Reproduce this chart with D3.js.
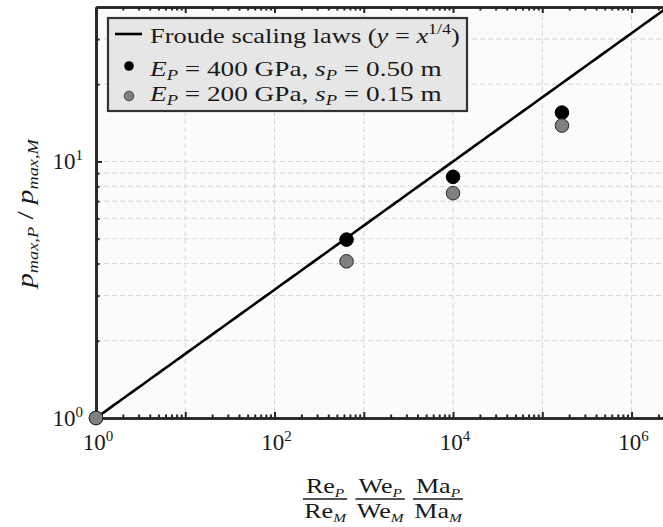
<!DOCTYPE html>
<html>
<head>
<meta charset="utf-8">
<script src="https://cdn.jsdelivr.net/npm/d3@7"></script>
<style>
  body { margin: 0; background: #ffffff; }
  text { font-family: "Liberation Serif", "DejaVu Serif", serif; fill: #1a1a1a; }
</style>
</head>
<body>
<svg id="chart" width="663" height="527"></svg>
<script>
// ---- data ----
const xMajorExps = [0, 2, 4, 6];          // labelled x decades
const yMajorExps = [0, 1];                // labelled y decades
const xLimits = [1, 2.56e6];
const yLimits = [1, 40];
const scalingPower = 0.25;                // Froude scaling: y = x^(1/4)
const similarityRatio = [1, 641, 10000, 166000];
const pressureRatio400 = [1, 4.96, 8.71, 15.5];   // E_P = 400 GPa, s_P = 0.50 m
const pressureRatio200 = [1, 4.08, 7.52, 13.8];   // E_P = 200 GPa, s_P = 0.15 m

// ---- layout ----
const margin = { left: 96, top: 7, right: 668, bottom: 418 };
const svg = d3.select("#chart");

const x = d3.scaleLog().domain(xLimits).range([margin.left, margin.right]);
const y = d3.scaleLog().domain(yLimits).range([margin.bottom, margin.top]);

const frameColor = "#262626";

// stretch a text element horizontally so it spans a given width from x0
function fitWidth(sel, x0, targetW) {
  const w = sel.node().getBBox().width;
  const k = targetW / w;
  sel.attr("transform", `translate(${x0},0) scale(${k},1) translate(${-x0},0)`);
}

// plot background
svg.append("rect")
  .attr("x", margin.left).attr("y", margin.top)
  .attr("width", margin.right - margin.left).attr("height", margin.bottom - margin.top)
  .attr("fill", "#fbfbfb");

// tick value sets
const xMinor = [];
for (let k = 0; k <= 6; k++) for (let m = 2; m <= 9; m++) {
  const v = m * Math.pow(10, k);
  if (v < xLimits[1]) xMinor.push(v);
}
const yMinor = [];
for (let k = 0; k <= 1; k++) for (let m = 2; m <= 9; m++) {
  const v = m * Math.pow(10, k);
  if (v < yLimits[1]) yMinor.push(v);
}
const xDecades = d3.range(0, 7).map(e => Math.pow(10, e));
const yDecades = yMajorExps.map(e => Math.pow(10, e));

// grid
const grid = svg.append("g").attr("stroke", "#d6d6d6").attr("stroke-width", 1)
  .attr("stroke-dasharray", "5,3");
grid.selectAll("line.gx").data(xDecades.slice(1)).join("line")
  .attr("x1", d => x(d)).attr("x2", d => x(d))
  .attr("y1", margin.top).attr("y2", margin.bottom);
grid.selectAll("line.gy").data(yMinor.concat(yDecades.slice(1))).join("line")
  .attr("y1", d => y(d)).attr("y2", d => y(d))
  .attr("x1", margin.left).attr("x2", margin.right);

// Froude scaling law line
const lawX = d3.range(0, 6.41, 0.05).map(e => Math.pow(10, e)).concat([xLimits[1]]);
svg.append("path")
  .datum(lawX)
  .attr("fill", "none").attr("stroke", "#000").attr("stroke-width", 2.6)
  .attr("d", d3.line().x(d => x(d)).y(d => y(Math.pow(d, scalingPower))));

// axes (inward ticks)
function styleAxis(g) {
  g.selectAll("text").remove();
  g.select(".domain").attr("stroke", frameColor).attr("stroke-width", 2.6);
  g.selectAll(".tick line").attr("stroke", frameColor).attr("stroke-width", 2);
}
function addAxis(axisGen, tr, values, size) {
  const g = svg.append("g").attr("transform", tr)
    .call(axisGen.tickValues(values).tickSizeInner(size).tickSizeOuter(0).tickFormat(""));
  styleAxis(g);
  return g;
}
addAxis(d3.axisBottom(x), `translate(0,${margin.bottom})`, xDecades, -6);
addAxis(d3.axisBottom(x), `translate(0,${margin.bottom})`, xMinor, -3.5);
addAxis(d3.axisTop(x), `translate(0,${margin.top})`, xDecades, -6);
addAxis(d3.axisTop(x), `translate(0,${margin.top})`, xMinor, -3.5);
addAxis(d3.axisLeft(y), `translate(${margin.left},0)`, yDecades, -6);
addAxis(d3.axisLeft(y), `translate(${margin.left},0)`, yMinor, -3.5);

// tick labels 10^k
function powerLabel(sel, k) {
  sel.append("tspan").text("10");
  sel.append("tspan").attr("dy", -9).attr("font-size", 15).text(String(k));
}
xMajorExps.forEach(k => {
  const t = svg.append("text")
    .attr("x", x(Math.pow(10, k)) + 2).attr("y", margin.bottom + 32)
    .attr("text-anchor", "middle").attr("font-size", 23);
  powerLabel(t, k);
});
yMajorExps.forEach(k => {
  const t = svg.append("text")
    .attr("x", margin.left - 13).attr("y", y(Math.pow(10, k)) + 8)
    .attr("text-anchor", "end").attr("font-size", 23);
  powerLabel(t, k);
});

// data points
const pts400 = similarityRatio.map((v, i) => [v, pressureRatio400[i]]);
const pts200 = similarityRatio.map((v, i) => [v, pressureRatio200[i]]);
svg.append("g").selectAll("circle").data(pts400).join("circle")
  .attr("cx", d => x(d[0])).attr("cy", d => y(d[1])).attr("r", 6.8)
  .attr("fill", "#000").attr("stroke", "#000").attr("stroke-width", 1);
svg.append("g").selectAll("circle").data(pts200).join("circle")
  .attr("cx", d => x(d[0])).attr("cy", d => y(d[1])).attr("r", 6.8)
  .attr("fill", "#808080").attr("stroke", "#2a2a2a").attr("stroke-width", 1);

// legend
const lg = svg.append("g");
lg.append("rect").attr("x", 108).attr("y", 18).attr("width", 359).attr("height", 93)
  .attr("fill", "#e6e6e6").attr("stroke", "#333").attr("stroke-width", 2.2);
lg.append("line").attr("x1", 115).attr("x2", 142).attr("y1", 34).attr("y2", 34)
  .attr("stroke", "#000").attr("stroke-width", 2.6);
lg.append("circle").attr("cx", 129).attr("cy", 66).attr("r", 4.8).attr("fill", "#000");
lg.append("circle").attr("cx", 129).attr("cy", 96).attr("r", 4.8)
  .attr("fill", "#808080").attr("stroke", "#2a2a2a").attr("stroke-width", 0.8);

const fs = 22;
const l1 = lg.append("text").attr("x", 150).attr("y", 43).attr("font-size", fs);
l1.append("tspan").text("Froude scaling laws (");
l1.append("tspan").attr("font-style", "italic").text("y");
l1.append("tspan").text(" = ");
l1.append("tspan").attr("font-style", "italic").text("x");
l1.append("tspan").attr("dy", -9).attr("font-size", 15).text("1/4");
l1.append("tspan").attr("dy", 9).text(")");
fitWidth(l1, 150, 310);

function seriesLabel(yPos, gpa, s) {
  const t = lg.append("text").attr("x", 150).attr("y", yPos).attr("font-size", fs);
  t.append("tspan").attr("font-style", "italic").text("E");
  t.append("tspan").attr("font-style", "italic").attr("font-size", 15).attr("dy", 4).text("P");
  t.append("tspan").attr("dy", -4).text(` = ${gpa} GPa, `);
  t.append("tspan").attr("font-style", "italic").text("s");
  t.append("tspan").attr("font-style", "italic").attr("font-size", 15).attr("dy", 4).text("P");
  t.append("tspan").attr("dy", -4).text(` = ${s} m`);
  fitWidth(t, 150, 293);
}
seriesLabel(76, 400, "0.50");
seriesLabel(101, 200, "0.15");

// y-axis title: p_{max,P} / p_{max,M}
const ytG = svg.append("g")
  .attr("transform", `translate(33,${(margin.top + margin.bottom) / 2 + 1}) rotate(-90)`);
const yt = ytG.append("text")
  .attr("x", 0).attr("y", 0)
  .attr("text-anchor", "middle").attr("font-size", 24).attr("font-style", "italic");
yt.append("tspan").text("p");
yt.append("tspan").attr("font-size", 15).attr("dy", 5).text("max,P");
yt.append("tspan").attr("dy", -5).attr("font-style", "normal").text(" / ");
yt.append("tspan").text("p");
yt.append("tspan").attr("font-size", 15).attr("dy", 5).text("max,M");
{
  const w = yt.node().getBBox().width;
  yt.attr("transform", `scale(${153 / w},1)`);
}

// x-axis title: product of three fractions
const fracs = [["Re", "P", "M"], ["We", "P", "M"], ["Ma", "P", "M"]];
const xt = svg.append("g");
const parts = fracs.map(([base, num, den]) => {
  const g = xt.append("g");
  const n = g.append("text").attr("font-size", 22).attr("text-anchor", "middle").attr("y", 493);
  n.append("tspan").text(base);
  n.append("tspan").attr("font-size", 13).attr("font-style", "italic").attr("dy", 4).text(num);
  const d = g.append("text").attr("font-size", 22).attr("text-anchor", "middle").attr("y", 518);
  d.append("tspan").text(base);
  d.append("tspan").attr("font-size", 13).attr("font-style", "italic").attr("dy", 4).text(den);
  const w = Math.max(n.node().getComputedTextLength(), d.node().getComputedTextLength()) + 2;
  return { g, n, d, w };
});
const gap = 7;
const total = d3.sum(parts, p => p.w) + gap * (parts.length - 1);
let cx0 = -total / 2;
parts.forEach(p => {
  const c = cx0 + p.w / 2;
  p.n.attr("x", c); p.d.attr("x", c);
  p.g.append("line").attr("x1", cx0).attr("x2", cx0 + p.w)
    .attr("y1", 499).attr("y2", 499).attr("stroke", "#1a1a1a").attr("stroke-width", 1.3);
  cx0 += p.w + gap;
});
xt.attr("transform", `translate(383,0) scale(${160 / total},1)`);
</script>
</body>
</html>
